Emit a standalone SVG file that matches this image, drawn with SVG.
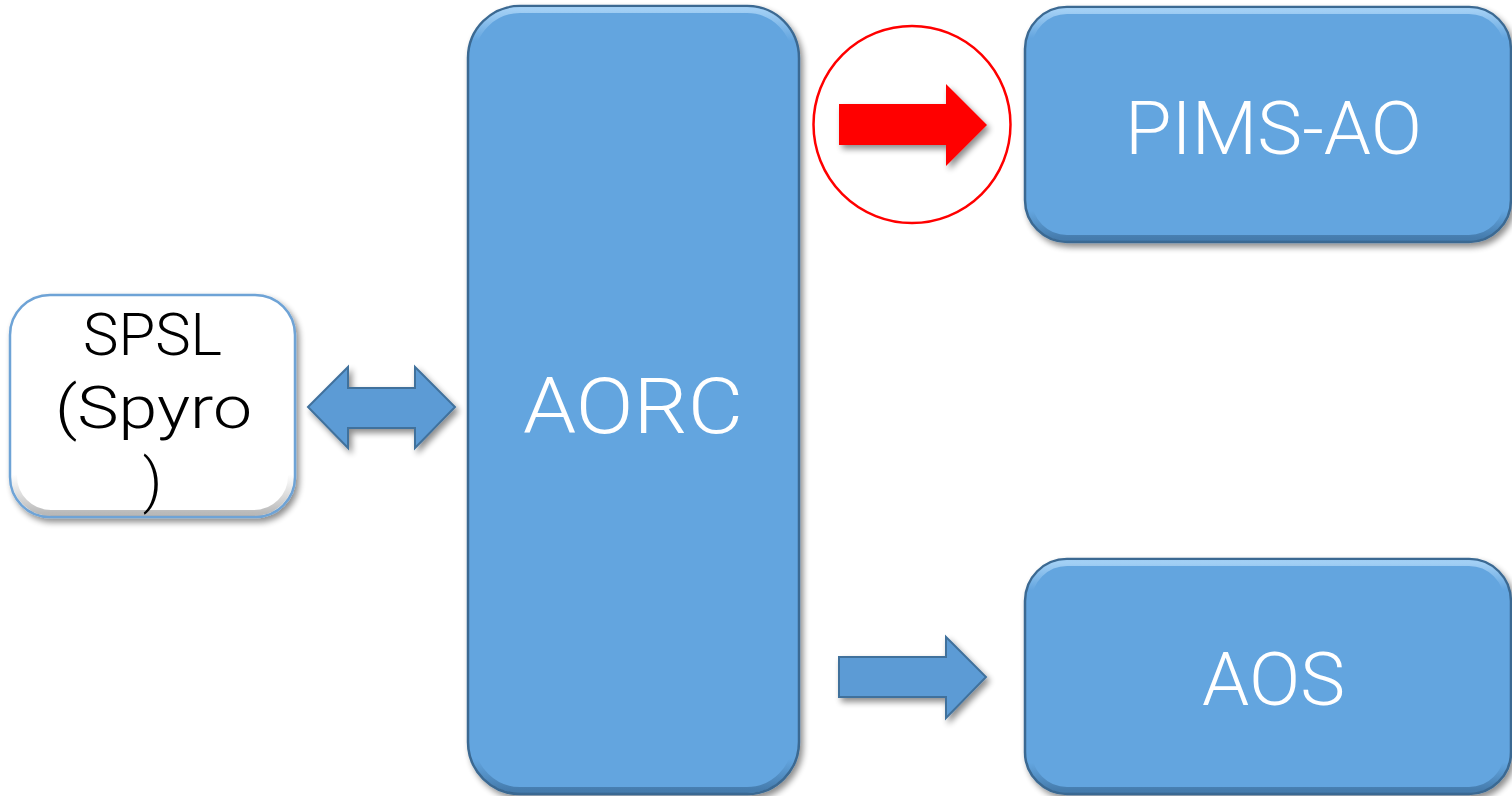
<svg xmlns="http://www.w3.org/2000/svg" width="1512" height="796" viewBox="0 0 1512 796">
<defs>
<filter id="shadow" x="-10%" y="-10%" width="130%" height="130%">
<feGaussianBlur in="SourceAlpha" stdDeviation="3"/>
<feOffset dx="3" dy="4" result="b"/>
<feComponentTransfer><feFuncA type="linear" slope="0.45"/></feComponentTransfer>
<feMerge><feMergeNode/><feMergeNode in="SourceGraphic"/></feMerge>
</filter>
<linearGradient id="bevel" x1="0" y1="0" x2="0" y2="1">
<stop offset="0" stop-color="#a9d4f7" stop-opacity="0.9"/>
<stop offset="0.12" stop-color="#a9d4f7" stop-opacity="0"/>
<stop offset="0.88" stop-color="#2d5a84" stop-opacity="0"/>
<stop offset="1" stop-color="#2d5a84" stop-opacity="0.55"/>
</linearGradient>
<linearGradient id="bevelTall" x1="0" y1="0" x2="0" y2="1">
<stop offset="0" stop-color="#a9d4f7" stop-opacity="0.9"/>
<stop offset="0.04" stop-color="#a9d4f7" stop-opacity="0"/>
<stop offset="0.96" stop-color="#2d5a84" stop-opacity="0"/>
<stop offset="1" stop-color="#2d5a84" stop-opacity="0.55"/>
</linearGradient>
<linearGradient id="bevelWhite" x1="0" y1="0" x2="0" y2="1">
<stop offset="0" stop-color="#ffffff" stop-opacity="0"/>
<stop offset="0.82" stop-color="#9a9a9a" stop-opacity="0"/>
<stop offset="1" stop-color="#8a8a8a" stop-opacity="0.6"/>
</linearGradient>
</defs>
<style>
.box{fill:#63a5df;stroke:#3b6992;stroke-width:2.5}
.wbox{fill:#ffffff;stroke:#6ea3d6;stroke-width:2.5}
.lbl{font-family:Roboto,"Liberation Sans",Arial,sans-serif;font-weight:300;fill:#ffffff;text-anchor:middle}
.blk{font-family:Roboto,"Liberation Sans",Arial,sans-serif;font-weight:300;fill:#000000;text-anchor:middle;font-size:60px}
.arrow{fill:#5b9bd5;stroke:#41719c;stroke-width:2}
.red{fill:#ff0000}
</style>
<rect width="1512" height="796" fill="#ffffff"/>

<g id="spsl">
<rect class="wbox" x="10" y="295" width="285" height="222" rx="40" filter="url(#shadow)"/>
<rect x="14" y="299" width="277" height="214" rx="37" fill="none" stroke="url(#bevelWhite)" stroke-width="6"/>
<text class="blk" x="152.5" y="355" textLength="139" lengthAdjust="spacingAndGlyphs">SPSL</text>
<text class="blk" x="153.5" y="428" textLength="197" lengthAdjust="spacingAndGlyphs">(Spyro</text>
<text class="blk" x="152.5" y="501">)</text>
</g>

<g id="aorc">
<rect class="box" x="468" y="6" width="331" height="788" rx="52" filter="url(#shadow)"/>
<rect x="472" y="10" width="323" height="780" rx="48" fill="none" stroke="url(#bevelTall)" stroke-width="6"/>
<text class="lbl" x="633" y="433" font-size="77" textLength="220" lengthAdjust="spacingAndGlyphs">AORC</text>
</g>

<g id="pims-ao">
<rect class="box" x="1025" y="7" width="486" height="235" rx="42" filter="url(#shadow)"/>
<rect x="1029" y="11" width="478" height="227" rx="38" fill="none" stroke="url(#bevel)" stroke-width="6"/>
<text class="lbl" x="1273.5" y="154" font-size="74" textLength="297" lengthAdjust="spacingAndGlyphs">PIMS-AO</text>
</g>

<g id="aos">
<rect class="box" x="1025" y="559" width="486" height="235" rx="42" filter="url(#shadow)"/>
<rect x="1029" y="563" width="478" height="227" rx="38" fill="none" stroke="url(#bevel)" stroke-width="6"/>
<text class="lbl" x="1273.5" y="705" font-size="74" textLength="143" lengthAdjust="spacingAndGlyphs">AOS</text>
</g>

<g id="highlight">
<circle cx="912" cy="124.5" r="98.5" fill="none" stroke="#ff0000" stroke-width="2.5"/>
</g>

<g id="connectors">
<polygon class="arrow" filter="url(#shadow)" points="308,407 348,367 348,388 415,388 415,367 455,407 415,448 415,428 348,428 348,448"/>
<polygon class="red" filter="url(#shadow)" points="839,104 946,104 946,84 987,125 946,166 946,145 839,145"/>
<polygon class="arrow" filter="url(#shadow)" points="839,657 946,657 946,637 986,677 946,718 946,697 839,697"/>
</g>
</svg>
